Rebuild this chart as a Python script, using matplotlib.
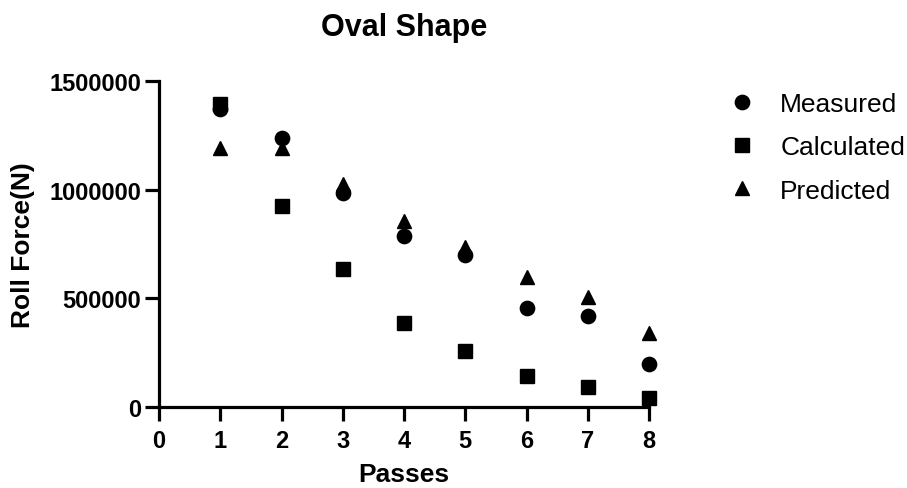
import matplotlib
matplotlib.use("Agg")
import matplotlib.pyplot as plt

passes = [1, 2, 3, 4, 5, 6, 7, 8]
measured = [1370000, 1237000, 983000, 789000, 700000, 457000, 418000, 198000]
calculated = [1394000, 923000, 633000, 388000, 258000, 143000, 92000, 42000]
predicted = [1190000, 1190000, 1024000, 854000, 738000, 600000, 508000, 341000]

xticks = [0, 1, 2, 3, 4, 5, 6, 7, 8]
yticks = [0, 500000, 1000000, 1500000]

plt.rcParams['font.family'] = ['Liberation Sans', 'DejaVu Sans']

fig = plt.figure(figsize=(9.07, 4.89), dpi=100)
ax = fig.add_axes([159/907, 1-408/489, (649-159)/907, (408-82)/489])

ax.plot(passes, measured, 'o', color='black', markersize=10.3, clip_on=False, label='Measured')
ax.plot(passes, calculated, 's', color='black', markersize=10, clip_on=False, label='Calculated')
ax.plot(passes, predicted, '^', color='black', markersize=10, clip_on=False, label='Predicted')

ax.set_xlim(0, 8)
ax.set_ylim(0, 1500000)
ax.set_xticks(xticks)
ax.set_yticks(yticks)
ax.set_xticklabels([str(t) for t in xticks], fontweight='bold', fontsize=17)
ax.set_yticklabels([str(t) for t in yticks], fontweight='bold', fontsize=17)
ax.tick_params(axis='both', direction='out', length=10, width=2.3)
ax.tick_params(axis='y', pad=3)
ax.tick_params(axis='x', pad=6)
for s in ['top', 'right']:
    ax.spines[s].set_visible(False)
for s in ['left', 'bottom']:
    ax.spines[s].set_linewidth(2.3)

ax.set_xlabel('Passes', fontweight='bold', fontsize=19, labelpad=7)
ax.set_ylabel('Roll Force(N)', fontweight='bold', fontsize=19, labelpad=10)
fig.text(404/907, 1-28/489, 'Oval Shape', fontweight='bold', fontsize=22, ha='center', va='center')

leg = fig.legend(loc='upper left', bbox_to_anchor=(729/907, 1-93/489), frameon=False,
                 fontsize=19, handlelength=1.0, handletextpad=0.94, labelspacing=0.73,
                 borderpad=0, borderaxespad=0)

fig.savefig('out.png', dpi=100)
